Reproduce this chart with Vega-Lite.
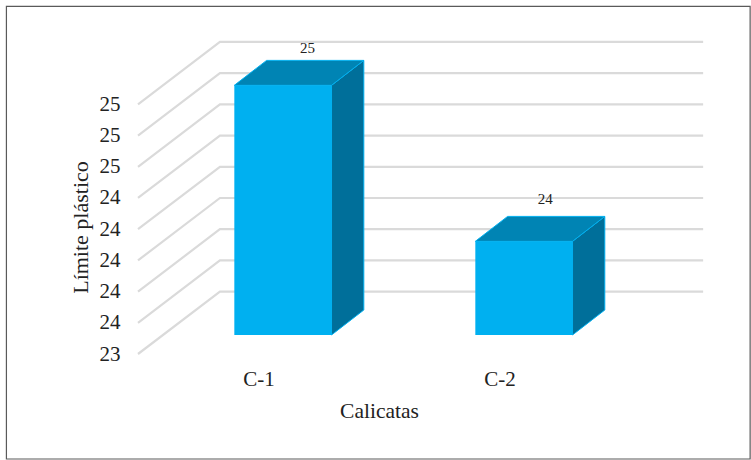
{
  "$schema": "https://vega.github.io/schema/vega-lite/v6.json",
  "width": 613,
  "height": 354,
  "autosize": "none",
  "padding": {"left": 138, "top": 0, "right": 0, "bottom": 106},
  "background": "white",
  "view": {"stroke": null},
  "datasets": {
    "calicatas": [
      {"calicata": "C-1", "orden": 1, "limite": 25.0},
      {"calicata": "C-2", "orden": 2, "limite": 24.0}
    ],
    "marcas": [
      {"marca": 23.4}, {"marca": 23.6}, {"marca": 23.8}, {"marca": 24.0}, {"marca": 24.2},
      {"marca": 24.4}, {"marca": 24.6}, {"marca": 24.8}, {"marca": 25.0}
    ]
  },
  "layer": [
    {
      "description": "Outer chart border",
      "data": {"values": [{"marco": 1}]},
      "mark": {"type": "rect", "fill": null, "stroke": "#5a5a5a", "strokeWidth": 1.2},
      "encoding": {
        "x": {"datum": -0.046, "type": "quantitative",
          "scale": {"domain": [0.5, 3.0436], "nice": false, "zero": false},
          "axis": {"values": [1, 2], "labelExpr": "'C-' + datum.value", "title": "Calicatas",
            "domain": false, "ticks": false, "grid": false,
            "labelFont": "Liberation Serif", "labelFontSize": 21, "labelColor": "#222222",
            "labelPadding": 14, "labelAngle": 0,
            "titleFont": "Liberation Serif", "titleFontSize": 21.5, "titleFontWeight": "normal", "titleColor": "#222222",
            "titleX": 241, "titleY": 57, "titleBaseline": "middle", "titleAnchor": null}},
        "x2": {"datum": 3.04},
        "y": {"datum": 22.727, "type": "quantitative",
          "scale": {"domain": [23.4, 25.669], "nice": false, "zero": false},
          "axis": {"values": [23.4, 23.6, 23.8, 24.0, 24.2, 24.4, 24.6, 24.8, 25.0], "format": ".0f", "title": "Límite plástico",
            "domain": false, "ticks": false, "grid": false,
            "labelFont": "Liberation Serif", "labelFontSize": 21, "labelColor": "#222222", "labelPadding": 18,
            "titleFont": "Liberation Serif", "titleFontSize": 22, "titleFontWeight": "normal", "titleColor": "#222222",
            "titleX": -58, "titleY": 227, "titleBaseline": "middle"}},
        "y2": {"datum": 25.628}
      }
    },
    {
      "description": "Wall and floor gridlines running back from each tick",
      "data": {"name": "marcas"},
      "transform": [
        {"calculate": "[0, 1, 2]", "as": "punto"},
        {"flatten": ["punto"]},
        {"calculate": "[0.5, 0.84, 2.845][datum.punto]", "as": "gx"},
        {"calculate": "datum.marca + (datum.punto > 0 ? 0.4 : 0)", "as": "gy"}
      ],
      "mark": {"type": "line", "stroke": "#dadada", "strokeWidth": 2.2, "interpolate": "linear"},
      "encoding": {
        "x": {"field": "gx", "type": "quantitative", "scale": {"domain": [0.5, 3.0436], "nice": false, "zero": false}},
        "y": {"field": "gy", "type": "quantitative", "scale": {"domain": [23.4, 25.669], "nice": false, "zero": false}},
        "detail": {"field": "marca"},
        "order": {"field": "punto"}
      }
    },
    {
      "description": "Side face of each bar",
      "data": {"name": "calicatas"},
      "transform": [
        {"calculate": "[0, 1]", "as": "f"},
        {"flatten": ["f"]},
        {"calculate": "datum.orden + 0.2 + (datum.f ? 0.237 : 0.103)", "as": "sx"},
        {"calculate": "datum.limite + (datum.f ? 0.282 : 0.122)", "as": "sy"},
        {"calculate": "23.4 + (datum.f ? 0.282 : 0.122)", "as": "sy2"}
      ],
      "mark": {"type": "area", "fill": "#006f9a", "stroke": "#00b0f0", "strokeWidth": 1, "opacity": 1},
      "encoding": {
        "x": {"field": "sx", "type": "quantitative", "scale": {"domain": [0.5, 3.0436], "nice": false, "zero": false}},
        "y": {"field": "sy", "type": "quantitative", "scale": {"domain": [23.4, 25.669], "nice": false, "zero": false}},
        "y2": {"field": "sy2"},
        "detail": {"field": "calicata"}
      }
    },
    {
      "description": "Top face of each bar",
      "data": {"name": "calicatas"},
      "transform": [
        {"calculate": "[0, 1]", "as": "f"},
        {"flatten": ["f"]},
        {"calculate": "datum.orden - 0.2033 + (datum.f ? 0.237 : 0.103)", "as": "tx"},
        {"calculate": "datum.orden + 0.2 + (datum.f ? 0.237 : 0.103)", "as": "tx2"},
        {"calculate": "datum.limite + (datum.f ? 0.282 : 0.122)", "as": "ty"}
      ],
      "mark": {"type": "area", "orient": "horizontal", "fill": "#0084b4", "stroke": "#00b0f0", "strokeWidth": 1, "opacity": 1},
      "encoding": {
        "y": {"field": "ty", "type": "quantitative", "scale": {"domain": [23.4, 25.669], "nice": false, "zero": false}},
        "x": {"field": "tx", "type": "quantitative", "scale": {"domain": [0.5, 3.0436], "nice": false, "zero": false}},
        "x2": {"field": "tx2"},
        "detail": {"field": "calicata"}
      }
    },
    {
      "description": "Front face of each bar",
      "data": {"name": "calicatas"},
      "transform": [
        {"calculate": "datum.orden - 0.2033 + 0.103", "as": "fx"},
        {"calculate": "datum.orden + 0.2 + 0.103", "as": "fx2"},
        {"calculate": "datum.limite + 0.122", "as": "fy"},
        {"calculate": "23.522", "as": "fy2"}
      ],
      "mark": {"type": "rect", "fill": "#00b0f0"},
      "encoding": {
        "x": {"field": "fx", "type": "quantitative", "scale": {"domain": [0.5, 3.0436], "nice": false, "zero": false}},
        "x2": {"field": "fx2"},
        "y": {"field": "fy", "type": "quantitative", "scale": {"domain": [23.4, 25.669], "nice": false, "zero": false}},
        "y2": {"field": "fy2"}
      }
    },
    {
      "description": "Value labels above the bars",
      "data": {"name": "calicatas"},
      "transform": [
        {"calculate": "datum.orden + (datum.orden === 1 ? 0.203 : 0.19)", "as": "lx"},
        {"calculate": "datum.limite + (datum.orden === 1 ? 0.359 : 0.394)", "as": "ly"}
      ],
      "mark": {"type": "text", "font": "Liberation Serif", "fontSize": 15, "color": "#222222", "baseline": "middle", "align": "center"},
      "encoding": {
        "x": {"field": "lx", "type": "quantitative", "scale": {"domain": [0.5, 3.0436], "nice": false, "zero": false}},
        "y": {"field": "ly", "type": "quantitative", "scale": {"domain": [23.4, 25.669], "nice": false, "zero": false}},
        "text": {"field": "limite", "type": "quantitative", "format": ".0f"}
      }
    }
  ]
}
